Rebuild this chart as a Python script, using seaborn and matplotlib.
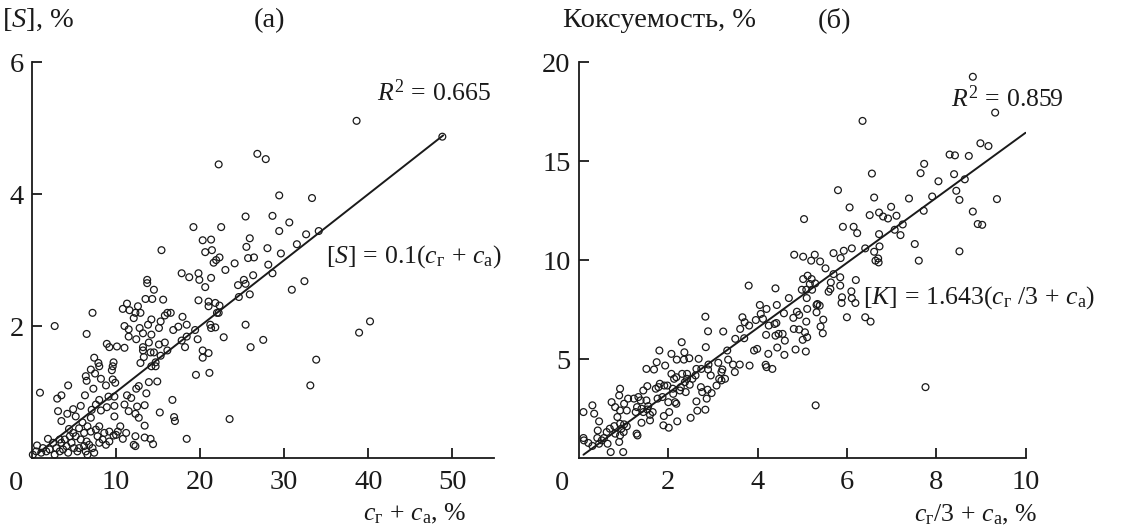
import numpy as np
import matplotlib
matplotlib.use('Agg')
import matplotlib.pyplot as plt
import seaborn as sns

# panel (a): sulphur vs c_r + c_a
s_x = [38.6, 48.8, 26.8, 27.8, 22.2, 29.4, 33.3, 25.4, 28.6, 30.6, 19.2, 22.5, 29.4, 32.6, 34.1,
       25.9, 20.3, 21.3, 31.5, 25.5, 15.4, 21.4, 20.6, 28.0, 29.6, 25.7, 26.4, 22.3, 21.9, 21.6,
       24.1, 28.1, 23.0, 17.8, 19.8, 28.6, 18.7, 21.3, 19.9, 26.3, 25.2, 13.7, 13.7, 32.4, 24.5,
       25.4, 20.6, 14.5, 30.9, 25.9, 24.6, 13.5, 14.3, 15.6, 19.8, 21.0, 21.8, 11.3, 12.6, 21.0,
       22.3, 10.8, 11.6, 12.3, 12.9, 22.0, 22.2, 16.1, 16.5, 7.2, 15.8, 17.9, 12.1, 14.2, 15.3,
       2.7, 11.0, 25.4, 21.2, 40.2, 18.4, 13.8, 17.4, 21.3, 21.8, 15.1, 16.8, 12.8, 11.5, 19.4,
       6.5, 38.9, 13.2, 14.2, 11.5, 12.4, 18.4, 19.7, 17.8, 22.8, 27.5, 13.9, 15.8, 15.1, 8.9,
       10.1, 9.2, 13.2, 11.0, 26.0, 18.2, 14.1, 13.2, 16.1, 20.3, 21.0, 14.5, 15.3, 20.3, 7.4,
       13.3, 33.8, 9.7, 7.9, 12.9, 14.7, 8.0, 14.2, 14.7, 9.6, 7.0, 9.5, 7.5, 21.1, 19.5,
       6.4, 8.2, 9.6, 13.9, 14.9, 9.9, 4.3, 33.1, 6.5, 8.8, 12.7, 12.4, 7.3, 0.95, 13.6,
       11.3, 3.5, 3.0, 6.3, 9.8, 9.1, 11.8, 16.7, 8.0, 11.0, 13.4, 5.8, 7.6, 8.9, 9.8,
       12.5, 4.9, 3.1, 7.1, 8.2, 11.5, 15.2, 12.3, 4.2, 5.2, 9.8, 7.0, 23.5, 16.9, 17.0,
       12.7, 3.5, 6.0, 13.4, 10.5, 4.4, 7.6, 11.2, 9.7, 13.4, 14.1, 18.4, 10.8, 12.3, 14.4,
       1.9, 2.5, 0.6, 12.1, 12.3, 5.2, 5.8, 6.5, 6.8, 6.2, 5.6, 4.1, 3.7, 3.3, 2.9,
       2.1, 1.7, 1.3, 1.1, 0.5, 0.1, 4.7, 5.0, 5.4, 7.2, 8.0, 8.4, 8.8, 9.2, 7.8,
       7.0, 6.2, 4.9, 4.5, 3.9, 3.5, 2.7, 4.3, 6.4, 6.6, 7.4, 3.3, 5.6, 6.6, 8.0,
       8.6, 9.2, 10.0, 10.2]
s_y = [5.11, 4.87, 4.61, 4.53, 4.45, 3.98, 3.94, 3.66, 3.67, 3.57, 3.50, 3.50, 3.44, 3.39, 3.44,
       3.33, 3.30, 3.31, 3.24, 3.20, 3.15, 3.15, 3.12, 3.18, 3.10, 3.03, 3.04, 3.04, 3.00, 2.96,
       2.95, 2.93, 2.85, 2.80, 2.80, 2.80, 2.74, 2.73, 2.70, 2.77, 2.70, 2.70, 2.65, 2.68, 2.62,
       2.64, 2.59, 2.55, 2.55, 2.48, 2.44, 2.41, 2.41, 2.40, 2.39, 2.37, 2.35, 2.34, 2.30, 2.30,
       2.31, 2.26, 2.24, 2.20, 2.20, 2.20, 2.20, 2.20, 2.20, 2.20, 2.16, 2.14, 2.12, 2.10, 2.07,
       2.00, 2.00, 2.02, 2.02, 2.07, 2.02, 2.02, 1.99, 1.97, 1.98, 1.97, 1.94, 1.97, 1.95, 1.94,
       1.88, 1.90, 1.89, 1.87, 1.84, 1.80, 1.84, 1.80, 1.78, 1.83, 1.79, 1.75, 1.75, 1.72, 1.73,
       1.69, 1.68, 1.68, 1.67, 1.68, 1.68, 1.60, 1.63, 1.63, 1.63, 1.59, 1.60, 1.55, 1.52, 1.52,
       1.53, 1.49, 1.45, 1.44, 1.44, 1.45, 1.39, 1.39, 1.39, 1.39, 1.34, 1.33, 1.28, 1.29, 1.26,
       1.24, 1.20, 1.19, 1.15, 1.16, 1.14, 1.10, 1.10, 1.17, 1.10, 1.09, 1.05, 1.05, 0.99, 0.98,
       0.95, 0.95, 0.90, 0.95, 0.93, 0.93, 0.91, 0.88, 0.88, 0.81, 0.80, 0.79, 0.81, 0.77, 0.79,
       0.78, 0.74, 0.71, 0.73, 0.72, 0.71, 0.69, 0.67, 0.67, 0.63, 0.63, 0.61, 0.59, 0.62, 0.56,
       0.61, 0.56, 0.54, 0.49, 0.48, 0.44, 0.43, 0.38, 0.34, 0.31, 0.29, 0.29, 0.29, 0.33, 0.21,
       0.29, 0.23, 0.19, 0.20, 0.18, 0.33, 0.28, 0.25, 0.20, 0.18, 0.15, 0.18, 0.13, 0.10, 0.15,
       0.13, 0.10, 0.15, 0.08, 0.10, 0.05, 0.23, 0.15, 0.10, 0.15, 0.23, 0.28, 0.20, 0.25, 0.33,
       0.40, 0.38, 0.38, 0.33, 0.28, 0.23, 0.05, 0.08, 0.10, 0.05, 0.08, 0.28, 0.45, 0.48, 0.48,
       0.38, 0.40, 0.35, 0.40]

# panel (b): coking value vs c_r/3 + c_a
k_x = [8.82, 9.32, 6.35, 8.99, 9.17, 8.30, 8.42, 8.73, 7.73, 7.65, 8.40, 6.56, 8.64, 8.05, 8.45,
       5.80, 8.52, 9.36, 7.39, 7.91, 6.61, 6.06, 6.99, 7.72, 6.72, 6.51, 8.82, 5.04, 6.81, 6.92,
       7.11, 7.25, 8.93, 9.03, 5.91, 6.15, 6.23, 7.07, 6.72, 7.20, 7.52, 6.73, 6.41, 6.11, 8.52,
       4.82, 5.28, 5.02, 5.93, 5.70, 6.61, 6.70, 5.20, 5.40, 5.86, 6.64, 6.71, 7.61, 5.52, 5.70,
       5.12, 5.02, 5.21, 5.85, 6.20, 5.29, 5.17, 3.80, 5.64, 5.85, 5.59, 4.40, 4.99, 5.09, 5.22,
       4.70, 5.10, 5.63, 6.10, 5.89, 5.88, 6.11, 6.19, 4.43, 4.05, 5.34, 5.32, 5.39, 5.11, 4.88,
       5.32, 4.07, 4.20, 4.59, 4.93, 2.83, 3.66, 4.80, 6.00, 6.41, 6.53, 3.96, 4.12, 3.71, 5.09,
       5.47, 4.42, 4.25, 4.38, 3.61, 3.81, 4.81, 4.93, 5.41, 2.89, 3.23, 5.06, 4.56, 4.40, 4.19,
       4.47, 5.46, 5.11, 5.01, 3.50, 3.70, 4.61, 2.30, 3.92, 3.99, 4.24, 4.44, 4.85, 5.08, 4.60,
       1.80, 2.07, 2.36, 2.84, 3.32, 2.68, 2.47, 2.19, 2.35, 1.74, 1.93, 2.90, 3.12, 3.34, 3.60,
       3.82, 3.45, 4.18, 4.20, 4.33, 1.51, 1.68, 2.63, 2.74, 2.89, 3.21, 3.19, 3.49, 2.07, 2.31,
       2.42, 2.61, 2.18, 2.13, 2.42, 2.54, 2.95, 3.14, 3.19, 3.27, 3.08, 2.37, 2.48, 2.28, 1.81,
       1.91, 1.98, 1.78, 1.53, 1.44, 1.72, 2.10, 2.26, 2.39, 2.73, 2.76, 2.97, 2.88, 0.92, 0.90,
       1.33, 1.10, 1.23, 1.38, 1.51, 1.76, 1.87, 2.11, 2.18, 2.15, 2.00, 2.63, 2.86, 0.73, 0.81,
       1.01, 0.92, 1.07, 1.30, 1.40, 1.44, 1.53, 1.59, 1.65, 1.55, 1.27, 2.65, 2.83, 2.50, 2.02,
       2.20, 1.90, 1.89, 2.01, 1.59, 1.40, 0.30, 0.34, 0.10, 0.45, 0.86, 0.79, 0.92, 1.01, 0.95,
       1.07, 0.69, 0.42, 0.62, 0.56, 0.51, 0.41, 0.10, 0.11, 0.21, 0.30, 0.45, 0.64, 0.71, 0.99,
       0.90, 1.00, 1.29, 1.31, 0.92, 0.81, 5.30, 7.76]
k_y = [19.26, 17.45, 17.03, 15.90, 15.76, 15.33, 15.29, 15.26, 14.86, 14.39, 14.34, 14.37, 14.08, 13.98, 13.50,
       13.53, 13.04, 13.08, 13.11, 13.21, 13.16, 12.66, 12.69, 12.49, 12.40, 12.27, 12.45, 12.07, 12.20, 12.10,
       12.24, 11.80, 11.82, 11.78, 11.68, 11.68, 11.36, 11.53, 11.31, 11.26, 10.81, 10.69, 10.59, 10.59, 10.44,
       10.27, 10.27, 10.17, 10.47, 10.35, 10.42, 10.08, 9.97, 9.93, 10.10, 9.97, 9.88, 9.97, 9.58, 9.29,
       9.21, 9.04, 9.04, 9.13, 8.99, 8.82, 8.79, 8.71, 8.87, 8.71, 8.40, 8.57, 8.50, 8.50, 8.50,
       8.08, 8.08, 8.54, 8.42, 8.12, 7.83, 8.07, 7.83, 7.73, 7.73, 7.78, 7.73, 7.70, 7.53, 7.39,
       7.36, 7.28, 7.53, 7.31, 7.23, 7.14, 7.11, 7.08, 7.11, 7.11, 6.89, 6.97, 7.03, 6.86, 6.89,
       6.99, 6.82, 6.69, 6.77, 6.52, 6.69, 6.52, 6.49, 6.64, 6.40, 6.39, 6.35, 6.27, 6.18, 6.22,
       6.27, 6.30, 6.10, 5.97, 6.02, 6.05, 5.93, 5.85, 5.43, 5.51, 5.26, 5.58, 5.48, 5.38, 5.21,
       5.43, 5.26, 5.34, 5.60, 5.43, 5.01, 5.04, 4.97, 4.97, 4.84, 4.67, 4.72, 4.81, 4.97, 4.72,
       4.67, 4.72, 4.71, 4.59, 4.50, 4.50, 4.47, 4.50, 4.50, 4.47, 4.47, 4.34, 4.34, 4.25, 4.25,
       4.25, 4.17, 4.08, 4.00, 4.00, 4.00, 4.17, 4.00, 3.92, 4.00, 3.66, 3.83, 3.70, 3.58, 3.75,
       3.66, 3.66, 3.58, 3.63, 3.41, 3.50, 3.50, 3.41, 3.33, 3.58, 3.33, 3.28, 3.45, 3.50, 3.16,
       3.08, 3.00, 3.00, 2.91, 2.91, 3.00, 3.08, 3.24, 2.74, 2.82, 2.82, 2.86, 3.00, 2.82, 2.57,
       2.74, 2.40, 2.40, 2.57, 2.49, 2.32, 2.45, 2.18, 2.32, 2.62, 2.32, 2.39, 2.44, 2.03, 2.32,
       1.85, 2.12, 1.65, 1.53, 1.90, 1.78, 2.66, 2.24, 2.32, 1.85, 2.07, 1.61, 1.73, 1.70, 1.48,
       1.60, 1.48, 1.39, 1.31, 1.01, 0.89, 1.01, 1.01, 0.89, 0.76, 0.61, 0.72, 0.72, 0.30, 0.30,
       0.81, 1.31, 1.23, 1.14, 1.14, 1.23, 2.66, 3.58]

# regression slopes and line ranges
s_slope = 0.1
s_range = [0.8, 48.9]
k_slope = 1.643
k_range = [0.1, 10.0]

s_xticks = [10, 20, 30, 40, 50]
s_yticks = [2, 4, 6]
k_xticks = [2, 4, 6, 8, 10]
k_yticks = [5, 10, 15, 20]

sns.set_style('ticks')
plt.rcParams['font.family'] = ['Liberation Serif', 'DejaVu Serif']
plt.rcParams['mathtext.fontset'] = 'custom'
plt.rcParams['mathtext.rm'] = 'Liberation Serif'
plt.rcParams['mathtext.it'] = 'Liberation Serif:italic'

ink = '#1a1a1a'
fs = 20.5
fs_ann = 18.5

fig = plt.figure(figsize=(11.42, 5.31), dpi=100)
ax1 = fig.add_axes([0.028, 0.1375, 0.405, 0.7455])
ax2 = fig.add_axes([0.507, 0.1375, 0.391, 0.7455])


def style_axis(ax, xlim, ylim, xt, yt):
    ax.set_xlim(*xlim)
    ax.set_ylim(*ylim)
    ax.set_xticks(xt)
    ax.set_yticks(yt)
    ax.set_xlabel('')
    ax.set_ylabel('')
    sns.despine(ax=ax)
    for sp in ['left', 'bottom']:
        ax.spines[sp].set_linewidth(1.3)
        ax.spines[sp].set_color(ink)
    ax.tick_params(direction='in', length=7, width=1.3, color=ink, labelsize=fs, labelcolor=ink)
    ax.tick_params(axis='y', pad=6)
    ax.tick_params(axis='x', pad=9)


# (a)
sns.scatterplot(x=s_x, y=s_y, ax=ax1, marker='o', s=24, facecolor='none',
                edgecolor=ink, linewidth=0.9, clip_on=False)
lx = np.array(s_range)
sns.lineplot(x=lx, y=s_slope * lx, ax=ax1, color=ink, linewidth=1.4)
style_axis(ax1, (0, 55), (0, 6), s_xticks, s_yticks)
ax1.text(41.0, 5.54, r'$R^2\,=\,0.665$', fontsize=fs_ann, va='center', color=ink)
ax1.text(35.0, 3.05, r'$[S]\,=\,0.1(c_{\mathrm{г}}\,+\,c_{\mathrm{а}})$', fontsize=fs_ann,
         va='center', color=ink, clip_on=False)
ax1.text(-0.035, -0.032, '0', transform=ax1.transAxes, fontsize=fs, ha='center', va='top', color=ink)
ax1.text(0.827, -0.14, r'$c_{\mathrm{г}}\,+\,c_{\mathrm{а}}$, %', transform=ax1.transAxes,
         fontsize=fs_ann, ha='center', va='center', color=ink)

# (b)
sns.scatterplot(x=k_x, y=k_y, ax=ax2, marker='o', s=24, facecolor='none',
                edgecolor=ink, linewidth=0.9, clip_on=False)
kx = np.array(k_range)
sns.lineplot(x=kx, y=k_slope * kx, ax=ax2, color=ink, linewidth=1.4)
style_axis(ax2, (0, 10), (0, 20), k_xticks, k_yticks)
ax2.text(8.34, 18.15, r'$R^2\,=\,0.859$', fontsize=fs_ann, va='center', color=ink)
ax2.text(6.36, 8.12, r'$[K]\,=\,1.643(c_{\mathrm{г}}\ /3\,+\,c_{\mathrm{а}})$', fontsize=fs_ann,
         va='center', color=ink, clip_on=False)
ax2.text(-0.038, -0.032, '0', transform=ax2.transAxes, fontsize=fs, ha='center', va='top', color=ink)
ax2.text(0.888, -0.145, r'$c_{\mathrm{г}}/3\,+\,c_{\mathrm{а}}$, %', transform=ax2.transAxes,
         fontsize=fs_ann, ha='center', va='center', color=ink)

# header labels
fig.text(0.002, 0.962, r'$[S]$, %', fontsize=fs, va='center', color=ink)
fig.text(0.236, 0.962, '(а)', fontsize=fs, ha='center', va='center', color=ink)
fig.text(0.493, 0.962, 'Коксуемость, %', fontsize=fs, va='center', color=ink)
fig.text(0.731, 0.962, '(б)', fontsize=fs, ha='center', va='center', color=ink)

fig.savefig('out.png', dpi=100)
